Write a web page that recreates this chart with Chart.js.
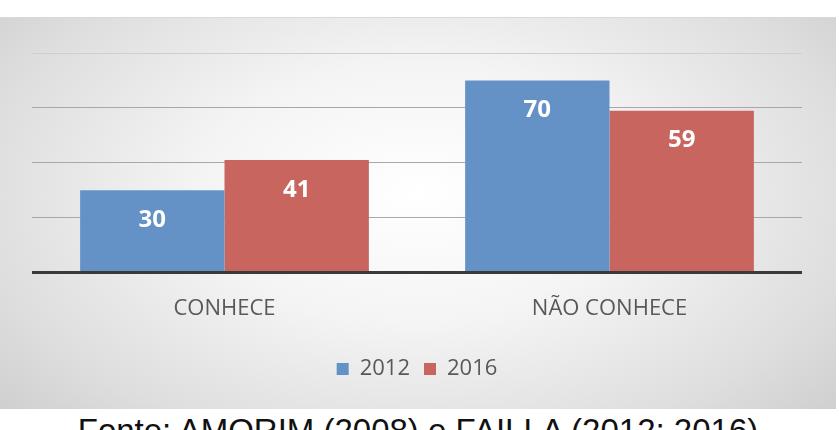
<!DOCTYPE html>
<html>
<head>
<meta charset="utf-8">
<script src="https://cdn.jsdelivr.net/npm/chart.js@4/dist/chart.umd.min.js"></script>
<style>
  html, body { margin: 0; padding: 0; background: #ffffff; width: 839px; height: 430px; overflow: hidden; }
  #panel {
    position: absolute; left: 0; top: 17px; width: 836px; height: 392px;
    background: radial-gradient(ellipse 75% 95% at 50% 45%, #ffffff 0%, #f4f4f4 35%, #dedede 70%, #c6c6c6 100%);
    border-top: 1px solid #d8d8d8;
    box-sizing: border-box;
  }
  #panel canvas { position: absolute; left: 0; top: -1px; }
  #fonte {
    position: absolute; left: 0; width: 836px; top: 414px; text-align: center;
    font-family: "Liberation Sans", Arial, sans-serif; font-size: 33px; line-height: 33px; color: #111;
    white-space: nowrap;
  }
</style>
</head>
<body>
<div id="panel"><canvas id="c" width="836" height="392"></canvas></div>
<div id="fonte">Fonte: AMORIM (2008) e FAILLA (2012; 2016)</div>
<script>
const categories = ["CONHECE", "NÃO CONHECE"];
const seriesNames = ["2012", "2016"];
const values2012 = [30, 70];
const values2016 = [41, 59];
const yTicks = [0, 20, 40, 60, 80];

const labelPlugin = {
  id: 'insideEndLabels',
  afterDatasetsDraw(chart) {
    const ctx = chart.ctx;
    ctx.save();
    ctx.fillStyle = '#ffffff';
    ctx.font = 'bold 24px "Open Sans", sans-serif';
    ctx.textAlign = 'center';
    ctx.textBaseline = 'middle';
    chart.data.datasets.forEach((ds, di) => {
      const meta = chart.getDatasetMeta(di);
      meta.data.forEach((bar, i) => {
        ctx.fillText(String(ds.data[i]), bar.x, bar.y + 30);
      });
    });
    ctx.restore();
  }
};

new Chart(document.getElementById('c'), {
  type: 'bar',
  data: {
    labels: categories,
    datasets: [
      { label: seriesNames[0], data: values2012, backgroundColor: '#6592c6', borderWidth: 0 },
      { label: seriesNames[1], data: values2016, backgroundColor: '#c9655f', borderWidth: 0 }
    ]
  },
  options: {
    responsive: false,
    animation: false,
    devicePixelRatio: 1,
    layout: { padding: { left: 32, right: 34, top: 36, bottom: 19 } },
    datasets: { bar: { categoryPercentage: 0.75, barPercentage: 1.0 } },
    scales: {
      x: {
        grid: { display: false },
        border: { display: false },
        afterFit: (scale) => { scale.height += 7; },
        ticks: { color: '#595959', font: { family: '"Open Sans", sans-serif', size: 22 }, padding: 15 }
      },
      y: {
        min: 0, max: 80,
        afterBuildTicks: (axis) => { axis.ticks = yTicks.map(v => ({ value: v })); },
        ticks: { display: false },
        border: { display: false },
        grid: {
          drawTicks: false,
          color: (c) => {
            if (!c.tick) return '#a8a8a8';
            if (c.tick.value === 0) return '#3a3a3a';
            if (c.tick.value === 80) return '#cfcfcf';
            return '#a8a8a8';
          },
          lineWidth: (c) => c.tick && c.tick.value === 0 ? 3 : 1
        }
      }
    },
    plugins: {
      legend: {
        position: 'bottom',
        labels: {
          color: '#595959',
          font: { family: '"Open Sans", sans-serif', size: 22 },
          boxWidth: 12, boxHeight: 12, padding: 14
        }
      },
      tooltip: { enabled: false }
    }
  },
  plugins: [labelPlugin]
});
</script>
</body>
</html>
